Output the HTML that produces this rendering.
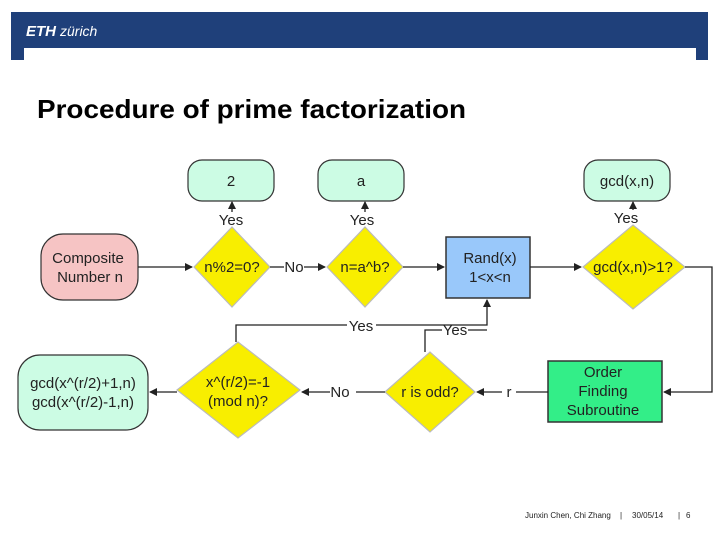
<!DOCTYPE html>
<html><head><style>
body{margin:0;width:720px;height:540px;background:#fff;overflow:hidden;font-family:"Liberation Sans",sans-serif}
</style></head><body>
<svg width="720" height="540" xmlns="http://www.w3.org/2000/svg" font-family="Liberation Sans, sans-serif">
<defs><marker id="a" markerWidth="8" markerHeight="8" refX="7" refY="4" orient="auto" markerUnits="userSpaceOnUse"><path d="M0,0 L8,4 L0,8 z" fill="#222"/></marker></defs>
<path d="M11,12 H708 V60 H696 V48 H24 V60 H11 Z" fill="#1f407a"/>
<text x="26" y="36" fill="#fff" font-size="15" font-weight="bold" font-style="italic">ETH</text>
<text x="60" y="36" fill="#fff" font-size="14" font-style="italic">zürich</text>
<text x="37" y="118" font-size="26" font-weight="bold" fill="#000" textLength="429" lengthAdjust="spacingAndGlyphs">Procedure of prime factorization</text>
<g stroke="#333" stroke-width="1.2">
<rect x="188" y="160" width="86" height="41" rx="14" fill="#ccfce4"/>
<rect x="318" y="160" width="86" height="41" rx="14" fill="#ccfce4"/>
<rect x="584" y="160" width="86" height="41" rx="14" fill="#ccfce4"/>
<rect x="41" y="234" width="97" height="66" rx="22" fill="#f6c4c4"/>
<rect x="18" y="355" width="130" height="75" rx="22" fill="#ccfce4"/>
<rect x="446" y="237" width="84" height="61" fill="#99c8fa" stroke-width="1.5"/>
<rect x="548" y="361" width="114" height="61" fill="#33ee88" stroke-width="1.5"/>
<polygon points="194,267 232,227 270,267 232,307" fill="#f8ee00" stroke="#bbb"/>
<polygon points="327,267 365,227 403,267 365,307" fill="#f8ee00" stroke="#bbb"/>
<polygon points="583,267 633,225 685,267 633,309" fill="#f8ee00" stroke="#bbb"/>
<polygon points="385,392 430,352 475,392 430,432" fill="#f8ee00" stroke="#bbb"/>
<polygon points="177,390 238,342 300,390 238,438" fill="#f8ee00" stroke="#bbb"/>
</g>
<g stroke="#222" stroke-width="1.3" fill="none">
<line x1="138" y1="267" x2="192" y2="267" marker-end="url(#a)"/>
<line x1="270" y1="267" x2="284" y2="267"/>
<line x1="304" y1="267" x2="325" y2="267" marker-end="url(#a)"/>
<line x1="403" y1="267" x2="444" y2="267" marker-end="url(#a)"/>
<line x1="530" y1="267" x2="581" y2="267" marker-end="url(#a)"/>
<path d="M685,267 H712 V392 H664" marker-end="url(#a)"/>
<line x1="548" y1="392" x2="516" y2="392"/>
<line x1="502" y1="392" x2="477" y2="392" marker-end="url(#a)"/>
<line x1="385" y1="392" x2="356" y2="392"/>
<line x1="330" y1="392" x2="302" y2="392" marker-end="url(#a)"/>
<line x1="177" y1="392" x2="150" y2="392" marker-end="url(#a)"/>
<line x1="232" y1="212" x2="232" y2="202" marker-end="url(#a)"/>
<line x1="365" y1="212" x2="365" y2="202" marker-end="url(#a)"/>
<line x1="633" y1="210" x2="633" y2="202" marker-end="url(#a)"/>
<path d="M236,342 V325 H347 M376,325 H487 V300" marker-end="url(#a)"/>
<path d="M425,352 V330 H442 M468,330 H487"/>
</g>
<g font-size="15" fill="#222" text-anchor="middle">
<text x="231" y="186">2</text>
<text x="361" y="186">a</text>
<text x="627" y="186">gcd(x,n)</text>
<text x="88" y="263">Composite</text>
<text x="90" y="282">Number n</text>
<text x="83" y="388">gcd(x^(r/2)+1,n)</text>
<text x="83" y="407">gcd(x^(r/2)-1,n)</text>
<text x="490" y="263">Rand(x)</text>
<text x="490" y="282">1&lt;x&lt;n</text>
<text x="603" y="377">Order</text>
<text x="603" y="396">Finding</text>
<text x="603" y="415">Subroutine</text>
<text x="232" y="272">n%2=0?</text>
<text x="365" y="272">n=a^b?</text>
<text x="633" y="272">gcd(x,n)&gt;1?</text>
<text x="430" y="397">r is odd?</text>
<text x="238" y="387">x^(r/2)=-1</text>
<text x="238" y="406">(mod n)?</text>
<text x="231" y="225">Yes</text>
<text x="362" y="225">Yes</text>
<text x="626" y="223">Yes</text>
<text x="294" y="272">No</text>
<text x="340" y="397">No</text>
<text x="509" y="397">r</text>
<text x="361" y="331">Yes</text>
<text x="455" y="335">Yes</text>
</g>
<g font-size="8" fill="#222">
<text x="525" y="518">Junxin Chen, Chi Zhang</text>
<text x="620" y="518">|</text>
<text x="632" y="518">30/05/14</text>
<text x="678" y="518">|</text>
<text x="686" y="518">6</text>
</g>
</svg>
</body></html>
